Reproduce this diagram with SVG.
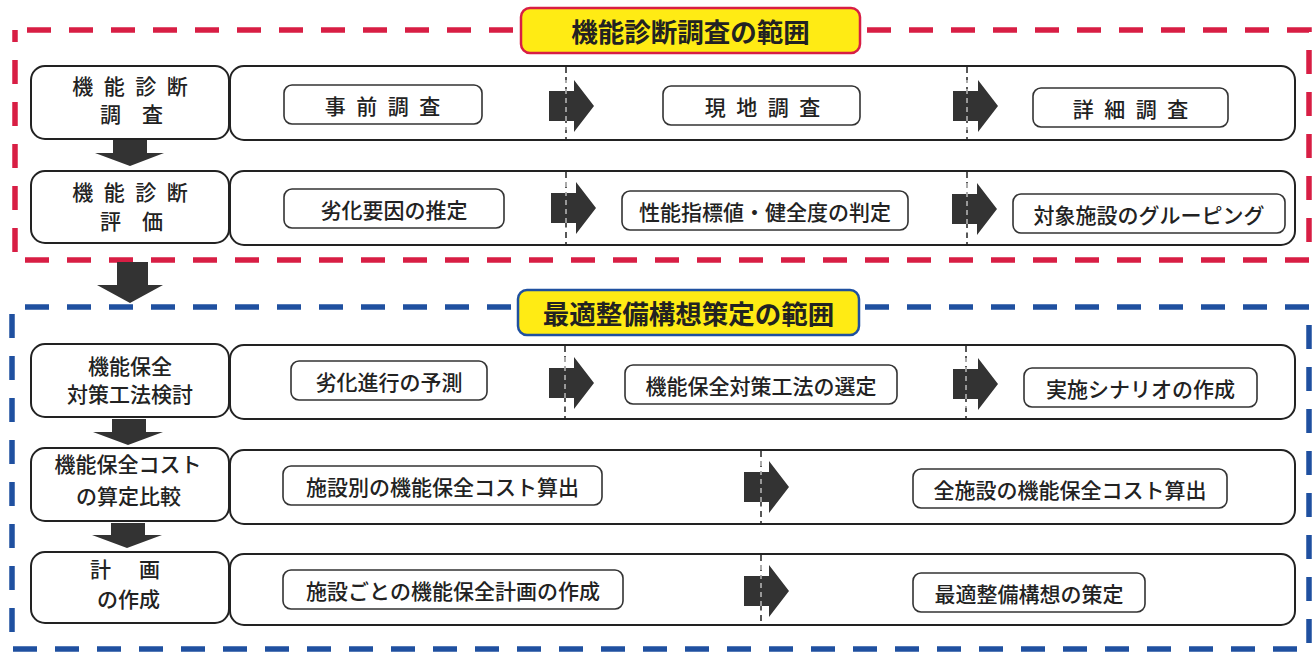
<svg xmlns="http://www.w3.org/2000/svg" width="1315" height="652" viewBox="0 0 1315 652">
<defs>
<style>
text{font-family:"Noto Sans CJK JP","Noto Sans CJK SC",sans-serif;fill:#222;text-anchor:middle;dominant-baseline:central}
.lb{font-size:21px;font-weight:500}
.tt{font-size:26.5px;font-weight:bold}
.main{fill:#fff;stroke:#222;stroke-width:2}
.sub{fill:#fff;stroke:#333;stroke-width:1.6}
.arr{fill:#333}
.div{stroke:#222;stroke-width:1.5;stroke-dasharray:6 4;fill:none}
.divw{stroke:#fff;stroke-width:1;stroke-dasharray:5 4;fill:none}
.sp{letter-spacing:10.5px}
</style>
<path id="ra" d="M0,-15 H25 V-26 L45,0 L25,26 V15 H0 Z"/>
</defs>
<rect width="1315" height="652" fill="#fff"/>

<g id="regions">
<rect x="15" y="30" width="1294" height="230" fill="none" stroke="#D81E44" stroke-width="5.5" stroke-dasharray="24 18" stroke-dashoffset="30"/>
<rect x="12" y="307" width="1297" height="342" fill="none" stroke="#1F50A0" stroke-width="5.5" stroke-dasharray="24 18" stroke-dashoffset="29"/>
</g>

<g id="title-diag">
<rect x="521" y="8" width="339" height="45" rx="9" fill="#FFEB14" stroke="#D81E44" stroke-width="2.5"/>
<text class="tt" x="690.5" y="30">機能診断調査の範囲</text>
</g>
<g id="title-plan">
<rect x="518" y="290" width="341" height="45" rx="9" fill="#FFEB14" stroke="#1F50A0" stroke-width="2.5"/>
<text class="tt" x="688.5" y="312">最適整備構想策定の範囲</text>
</g>

<!-- Row 1 -->
<g id="row1-label">
<rect class="main" x="31" y="66" width="198" height="73" rx="14"/>
<text class="lb sp" x="135.3" y="85">機能診断</text>
<text class="lb" x="131.5" y="113">調　査</text>
</g>
<g id="row1-track"><rect class="main" x="230" y="66" width="1065" height="74" rx="14"/></g>
<g id="n-jizen"><rect class="sub" x="284" y="85" width="198" height="39" rx="8"/><text class="lb sp" x="387.7" y="104.5">事前調査</text></g>
<g id="n-genchi"><rect class="sub" x="663" y="86" width="197" height="39" rx="8"/><text class="lb sp" x="767.7" y="105.5">現地調査</text></g>
<g id="n-shosai"><rect class="sub" x="1033" y="88" width="195" height="39" rx="8"/><text class="lb sp" x="1135.7" y="107.5">詳細調査</text></g>

<!-- Row 2 -->
<g id="row2-label">
<rect class="main" x="31" y="171" width="198" height="72" rx="14"/>
<text class="lb sp" x="135.3" y="191">機能診断</text>
<text class="lb" x="131.5" y="219.5">評　価</text>
</g>
<g id="row2-track"><rect class="main" x="230" y="171" width="1065" height="74" rx="14"/></g>
<g id="n-rekka"><rect class="sub" x="284" y="189" width="220" height="39" rx="8"/><text class="lb" x="394" y="208.5">劣化要因の推定</text></g>
<g id="n-seino"><rect class="sub" x="622" y="191" width="286" height="39" rx="8"/><text class="lb" x="765" y="210.5">性能指標値・健全度の判定</text></g>
<g id="n-group"><rect class="sub" x="1013" y="194" width="272" height="39" rx="8"/><text class="lb" x="1149" y="213.5">対象施設のグルーピング</text></g>

<!-- Row 3 -->
<g id="row3-label">
<rect class="main" x="31" y="344" width="198" height="73" rx="14"/>
<text class="lb" x="130" y="365">機能保全</text>
<text class="lb" x="130" y="393">対策工法検討</text>
</g>
<g id="row3-track"><rect class="main" x="230" y="345" width="1065" height="74" rx="14"/></g>
<g id="n-yosoku"><rect class="sub" x="291" y="361" width="196" height="39" rx="8"/><text class="lb" x="389" y="380.5">劣化進行の予測</text></g>
<g id="n-sentei"><rect class="sub" x="625" y="365" width="272" height="39" rx="8"/><text class="lb" x="761" y="384.5">機能保全対策工法の選定</text></g>
<g id="n-scenario"><rect class="sub" x="1024" y="368" width="233" height="39" rx="8"/><text class="lb" x="1140.5" y="387.5">実施シナリオの作成</text></g>

<!-- Row 4 -->
<g id="row4-label">
<rect class="main" x="31" y="448" width="198" height="73" rx="14"/>
<text class="lb" x="128" y="463">機能保全コスト</text>
<text class="lb" x="128.5" y="495">の算定比較</text>
</g>
<g id="row4-track"><rect class="main" x="230" y="450" width="1065" height="74" rx="14"/></g>
<g id="n-cost1"><rect class="sub" x="283" y="466" width="319" height="39" rx="8"/><text class="lb" x="442.5" y="485.5">施設別の機能保全コスト算出</text></g>
<g id="n-cost2"><rect class="sub" x="913" y="469" width="314" height="39" rx="8"/><text class="lb" x="1070" y="488.5">全施設の機能保全コスト算出</text></g>

<!-- Row 5 -->
<g id="row5-label">
<rect class="main" x="31" y="552" width="198" height="71" rx="14"/>
<text class="lb" x="126.75" y="568" style="letter-spacing:3.5px">計　画</text>
<text class="lb" x="128.5" y="598">の作成</text>
</g>
<g id="row5-track"><rect class="main" x="230" y="554" width="1065" height="71" rx="14"/></g>
<g id="n-keikaku"><rect class="sub" x="283" y="570" width="340" height="39" rx="8"/><text class="lb" x="453" y="589.5">施設ごとの機能保全計画の作成</text></g>
<g id="n-kousou"><rect class="sub" x="913" y="573" width="232" height="39" rx="8"/><text class="lb" x="1029" y="592.5">最適整備構想の策定</text></g>

<g id="connectors">
<line class="div" x1="566" y1="67" x2="566" y2="139"/>
<line class="div" x1="967" y1="67" x2="967" y2="140"/>
<line class="div" x1="566" y1="172" x2="566" y2="244"/>
<line class="div" x1="967" y1="172" x2="967" y2="245"/>
<line class="div" x1="565" y1="346" x2="565" y2="418"/>
<line class="div" x1="966" y1="346" x2="966" y2="419"/>
<line class="div" x1="761" y1="451" x2="761" y2="523"/>
<line class="div" x1="761" y1="555" x2="761" y2="624"/>
<use href="#ra" class="arr" transform="translate(549,106)"/>
<use href="#ra" class="arr" transform="translate(953,106)"/>
<use href="#ra" class="arr" transform="translate(551,208)"/>
<use href="#ra" class="arr" transform="translate(952,209)"/>
<use href="#ra" class="arr" transform="translate(549,383)"/>
<use href="#ra" class="arr" transform="translate(953,384)"/>
<use href="#ra" class="arr" transform="translate(744,487)"/>
<use href="#ra" class="arr" transform="translate(744,591)"/>
<line class="divw" x1="566" y1="80" x2="566" y2="132"/>
<line class="divw" x1="967" y1="80" x2="967" y2="132"/>
<line class="divw" x1="566" y1="182" x2="566" y2="234"/>
<line class="divw" x1="967" y1="183" x2="967" y2="235"/>
<line class="divw" x1="565" y1="357" x2="565" y2="409"/>
<line class="divw" x1="966" y1="358" x2="966" y2="410"/>
<line class="divw" x1="761" y1="461" x2="761" y2="513"/>
<line class="divw" x1="761" y1="565" x2="761" y2="617"/>
<path class="arr" d="M113,140 H147 V153 H164 L130,166 L95,153 H113 Z"/>
<path class="arr" d="M117,262 H148 V285 H163 L130,303 L97,285 H117 Z"/>
<path class="arr" d="M112,419 H146 V432 H163 L128,445 L93,432 H112 Z"/>
<path class="arr" d="M111,523 H145 V535 H162 L127,548 L92,535 H111 Z"/>
</g>
</svg>
